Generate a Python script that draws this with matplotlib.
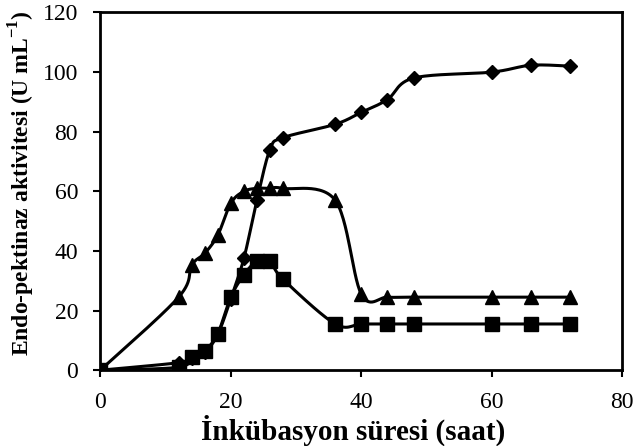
import numpy as np
import matplotlib
matplotlib.use("Agg")
import matplotlib.pyplot as plt

# incubation time (h) and endo-pectinase activity (U/mL) for the three series
hours = [0, 12, 14, 16, 18, 20, 22, 24, 26, 28, 36, 40, 44, 48, 60, 66, 72]
diamond = [0, 2.5, 4, 6, 12, 24, 37.5, 57, 74, 78, 82.5, 86.5, 90.8, 98, 100, 102.3, 102]
square = [0, 1, 4.5, 6.5, 12.3, 24.5, 32, 36.5, 36.5, 30.5, 15.5, 15.5, 15.5, 15.5, 15.5, 15.5, 15.5]
triangle = [0, 24.5, 35.2, 39.2, 45.3, 56, 60, 61, 61, 61, 57, 25.5, 24.5, 24.5, 24.5, 24.5, 24.5]

xticks = [0, 20, 40, 60, 80]
yticks = [0, 20, 40, 60, 80, 100, 120]


def smooth(x, y, n=30):
    # excel style smoothed line: catmull-rom segments as cubic beziers
    x = np.asarray(x, float)
    y = np.asarray(y, float)
    px = np.concatenate([[x[0]], x, [x[-1]]])
    py = np.concatenate([[y[0]], y, [y[-1]]])
    xs, ys = [], []
    s = np.linspace(0, 1, n)
    for i in range(1, len(px) - 2):
        p0 = np.array([px[i], py[i]])
        p3 = np.array([px[i + 1], py[i + 1]])
        c1 = p0 + (p3 - np.array([px[i - 1], py[i - 1]])) / 6
        c2 = p3 - (np.array([px[i + 2], py[i + 2]]) - p0) / 6
        b = ((1 - s) ** 3)[:, None] * p0 + (3 * (1 - s) ** 2 * s)[:, None] * c1 \
            + (3 * (1 - s) * s ** 2)[:, None] * c2 + (s ** 3)[:, None] * p3
        xs.extend(b[:, 0])
        ys.extend(b[:, 1])
    return xs, ys


plt.rcParams['font.family'] = ['Liberation Serif', 'DejaVu Serif']
plt.rcParams['mathtext.fontset'] = 'custom'
plt.rcParams['mathtext.rm'] = 'Liberation Serif'
plt.rcParams['mathtext.bf'] = 'Liberation Serif:bold'

fig = plt.figure(figsize=(6.35, 4.46), dpi=100)
ax = fig.add_axes([0.158, 0.17, 0.822, 0.802])

for ys, mk, ms in [(triangle, '^', 10), (square, 's', 9.5), (diamond, 'D', 7.5)]:
    sx, sy = smooth(hours, ys)
    ax.plot(sx, sy, color='black', lw=2.2, solid_capstyle='round', zorder=2)
    ax.plot(hours, ys, ls='none', marker=mk, ms=ms, color='black', zorder=3)

ax.set_xlim(0, 80)
ax.set_ylim(0, 120)
ax.set_xticks(xticks)
ax.set_yticks(yticks)
ax.tick_params(labelsize=17, width=1.5, length=5, direction='out')
ax.tick_params(axis='y', pad=11)
ax.tick_params(axis='x', pad=11)
for sp in ax.spines.values():
    sp.set_linewidth(2)

ax.set_xlabel('İnkübasyon süresi (saat)', fontsize=21, fontweight='bold')
ax.set_ylabel(r'Endo-pektinaz aktivitesi (U mL$^{\mathbf{-1}}$)', fontsize=17,
              fontweight='bold')
ax.xaxis.set_label_coords(0.485, -0.124)
ax.yaxis.set_label_coords(-0.121, 0.522)

fig.savefig('out.png', dpi=100)
